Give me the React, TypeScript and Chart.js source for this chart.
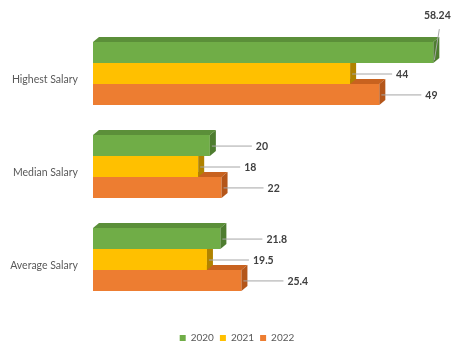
import React, { useEffect, useRef } from "react";
import { Chart, registerables } from "chart.js";

Chart.register(...registerables);

const categories = ["Highest Salary", "Median Salary", "Average Salary"];
const seriesNames = ["2020", "2021", "2022"];
const values2020 = [58.24, 20, 21.8];
const values2021 = [44, 18, 19.5];
const values2022 = [49, 22, 25.4];

const frontColors = ["#70AD47", "#FFC000", "#ED7D31"];
const topColors = ["#5B8F39", "#C99600", "#C8621F"];
const sideColors = ["#4E7D30", "#B08300", "#B4561A"];

const DX = 6;
const DY = 5;
const FONT = "Lato, 'Open Sans', sans-serif";

const bar3d = {
  id: "bar3d",
  afterDatasetDraw(chart: any, args: any) {
    const ctx = chart.ctx;
    const i = args.index;
    const meta = args.meta;
    ctx.save();
    meta.data.forEach((el: any) => {
      const p = el.getProps(["x", "y", "base", "height"], true);
      const top = p.y - p.height / 2;
      const bot = p.y + p.height / 2;
      const x0 = p.base;
      const x1 = p.x;
      ctx.fillStyle = topColors[i];
      ctx.beginPath();
      ctx.moveTo(x0, top);
      ctx.lineTo(x0 + DX, top - DY);
      ctx.lineTo(x1 + DX, top - DY);
      ctx.lineTo(x1, top);
      ctx.closePath();
      ctx.fill();
      ctx.fillStyle = sideColors[i];
      ctx.beginPath();
      ctx.moveTo(x1, top);
      ctx.lineTo(x1 + DX, top - DY);
      ctx.lineTo(x1 + DX, bot - DY);
      ctx.lineTo(x1, bot);
      ctx.closePath();
      ctx.fill();
    });
    ctx.restore();
  },
};

const dataLabels = {
  id: "dataLabels3d",
  afterDraw(chart: any) {
    const ctx = chart.ctx;
    ctx.save();
    ctx.font = `bold 10.5px ${FONT}`;
    ctx.textBaseline = "middle";
    chart.data.datasets.forEach((ds: any, di: number) => {
      const meta = chart.getDatasetMeta(di);
      meta.data.forEach((el: any, j: number) => {
        const p = el.getProps(["x", "y", "height"], true);
        const text = String(ds.data[j]);
        const w = ctx.measureText(text).width;
        const top = p.y - p.height / 2;
        const lx = p.x + 46;
        ctx.strokeStyle = "#A6A6A6";
        ctx.lineWidth = 1;
        ctx.fillStyle = "#404040";
        if (lx + w > chart.width - 4) {
          ctx.beginPath();
          ctx.moveTo(p.x + 1, top + 18);
          ctx.lineTo(p.x + 6, top - 13);
          ctx.stroke();
          ctx.textAlign = "center";
          ctx.fillText(text, p.x + 4, top - 27);
        } else {
          ctx.beginPath();
          ctx.moveTo(p.x + 2, p.y + 0.5);
          ctx.lineTo(lx - 4, p.y + 0.5);
          ctx.stroke();
          ctx.textAlign = "left";
          ctx.fillText(text, lx, p.y + 1);
        }
      });
    });
    ctx.restore();
  },
};

export default function App() {
  const ref = useRef<HTMLCanvasElement | null>(null);
  useEffect(() => {
    if (!ref.current) return;
    const chart = new Chart(ref.current, {
      type: "bar",
      data: {
        labels: categories,
        datasets: [values2020, values2021, values2022].map((d, i) => ({
          label: seriesNames[i],
          data: d,
          backgroundColor: frontColors[i],
          borderWidth: 0,
          categoryPercentage: 0.675,
          barPercentage: 1,
        })),
      },
      options: {
        indexAxis: "y",
        responsive: false,
        animation: false,
        layout: { padding: { top: 27, right: 0, bottom: 3, left: 0 } },
        scales: {
          x: {
            min: 0,
            max: 65.2,
            display: true,
            grid: { display: false, drawTicks: false },
            border: { display: false },
            ticks: { display: false },
            afterFit: (s: any) => {
              s.height = 21;
            },
          },
          y: {
            grid: { display: false, drawTicks: false },
            border: { display: false },
            ticks: {
              padding: 15,
              labelOffset: 6,
              color: "#595959",
              font: { size: 10.5, family: FONT },
            },
            afterFit: (s: any) => {
              s.width = 93;
            },
          },
        },
        plugins: {
          legend: {
            position: "bottom",
            labels: {
              boxWidth: 6,
              boxHeight: 6,
              padding: 6,
              color: "#595959",
              font: { size: 10, family: FONT },
            },
          },
          tooltip: { enabled: false },
        },
      },
      plugins: [bar3d, dataLabels],
    });
    return () => chart.destroy();
  }, []);
  return (
    <div style={{ position: "fixed", left: 0, top: 0, width: 474, height: 356, background: "#fff" }}>
      <canvas ref={ref} width={474} height={356} />
    </div>
  );
}
